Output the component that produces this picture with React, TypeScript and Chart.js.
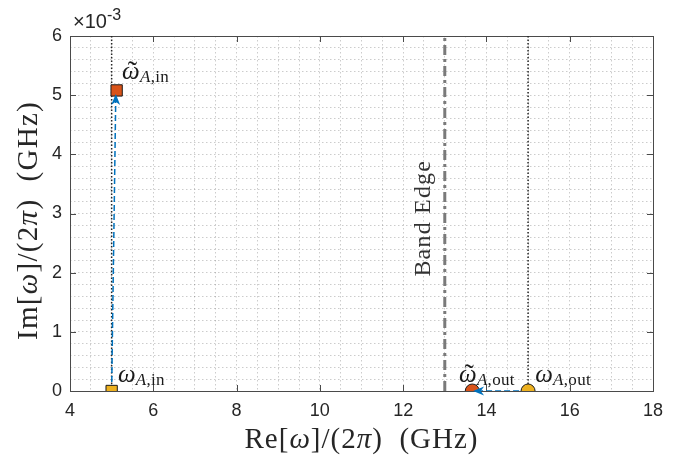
import React, { useEffect, useRef } from 'react';
import { Chart, registerables } from 'chart.js';

Chart.register(...registerables);

// ---- data ----
const xLimits = [4, 18];
const yLimits = [0, 0.006];
const xMajorTicks = [4, 6, 8, 10, 12, 14, 16, 18];
const yMajorTicks = [0, 0.001, 0.002, 0.003, 0.004, 0.005, 0.006];
const xMinorStep = 0.5;
const yMinorStep = 0.0002;

const inputMode = [{ x: 5, y: 0 }];
const inputModeShifted = [{ x: 5.12, y: 0.00508 }];
const outputMode = [{ x: 15, y: 0 }];
const outputModeShifted = [{ x: 13.66, y: 0 }];

const refLineIn = [{ x: 5, y: 0 }, { x: 5, y: 0.006 }];
const refLineOut = [{ x: 15, y: 0 }, { x: 15, y: 0.006 }];
const bandEdgeLine = [{ x: 13, y: 0 }, { x: 13, y: 0.006 }];

const arrowIn = [{ x: 5.0, y: 0 }, { x: 5.1, y: 0.00502 }];
const arrowOut = [{ x: 15, y: 0 }, { x: 13.68, y: 0 }];

const modeLabels = [
  { x: 5.25, y: 0.00528, tilde: true, sub: 'in' },
  { x: 5.15, y: 0.00016, tilde: false, sub: 'in' },
  { x: 13.34, y: 0.00016, tilde: true, sub: 'out' },
  { x: 15.17, y: 0.00016, tilde: false, sub: 'out' },
];
const bandEdgeLabel = { x: 12.645, y: 0.00292, text: 'Band Edge' };

const xTitleParts = [
  { t: 'Re[', it: false },
  { t: 'ω', it: true },
  { t: ']/(2', it: false },
  { t: 'π', it: true },
  { t: ')  (GHz)', it: false },
];
const yTitleParts = [
  { t: 'Im[', it: false },
  { t: 'ω', it: true },
  { t: ']/(2', it: false },
  { t: 'π', it: true },
  { t: ')  (GHz)', it: false },
];

// ---- styles ----
const SERIF = "'Liberation Serif', 'DejaVu Serif', serif";
const SANS = "'Liberation Sans', Arial, sans-serif";
const YELLOW = '#EDB120';
const RED = '#D95319';
const BLUE = '#0072BD';
const AXIS = '#4a4a4a';

type Seg = { t: string; it?: boolean; size: number; dy?: number };

function segFont(s: Seg) {
  return `${s.it ? 'italic ' : ''}${s.size}px ${SERIF}`;
}

function drawSegs(ctx: any, segs: Seg[], x: number, y: number, align: 'left' | 'center', spacing = 0) {
  ctx.letterSpacing = `${spacing}px`;
  let total = 0;
  for (const s of segs) {
    ctx.font = segFont(s);
    total += ctx.measureText(s.t).width;
  }
  let cx = align === 'center' ? x - total / 2 : x;
  ctx.textAlign = 'left';
  ctx.textBaseline = 'alphabetic';
  for (const s of segs) {
    ctx.font = segFont(s);
    ctx.fillText(s.t, cx, y + (s.dy || 0));
    cx += ctx.measureText(s.t).width;
  }
  ctx.letterSpacing = '0px';
}

const overlayPlugin = {
  id: 'overlay',
  beforeDatasetsDraw(chart: any) {
    const { ctx, chartArea } = chart;
    const { left, right, top, bottom } = chartArea;
    const xs = chart.scales.x;
    const ys = chart.scales.y;
    ctx.save();
    ctx.strokeStyle = AXIS;
    ctx.lineWidth = 1;
    ctx.setLineDash([]);
    ctx.strokeRect(Math.round(left) + 0.5, Math.round(top) + 0.5, Math.round(right - left), Math.round(bottom - top));
    const tl = 6;
    ctx.beginPath();
    for (const v of xMajorTicks) {
      const px = Math.round(xs.getPixelForValue(v)) + 0.5;
      ctx.moveTo(px, bottom);
      ctx.lineTo(px, bottom - tl);
      ctx.moveTo(px, top);
      ctx.lineTo(px, top + tl);
    }
    for (const v of yMajorTicks) {
      const py = Math.round(ys.getPixelForValue(v)) + 0.5;
      ctx.moveTo(left, py);
      ctx.lineTo(left + tl, py);
      ctx.moveTo(right, py);
      ctx.lineTo(right - tl, py);
    }
    ctx.stroke();
    ctx.restore();
  },
  afterDatasetsDraw(chart: any) {
    const { ctx, chartArea } = chart;
    const { left, right, top, bottom } = chartArea;
    const xs = chart.scales.x;
    const ys = chart.scales.y;
    ctx.save();

    // arrow heads
    for (const arr of [arrowIn, arrowOut]) {
      const x0 = xs.getPixelForValue(arr[0].x);
      const y0 = ys.getPixelForValue(arr[0].y);
      const x1 = xs.getPixelForValue(arr[1].x);
      const y1 = ys.getPixelForValue(arr[1].y);
      const len = Math.hypot(x1 - x0, y1 - y0);
      const ux = (x1 - x0) / len;
      const uy = (y1 - y0) / len;
      const px = -uy;
      const py = ux;
      const L = 11;
      const W = 4.5;
      ctx.fillStyle = BLUE;
      ctx.beginPath();
      ctx.moveTo(x1, y1);
      ctx.lineTo(x1 - L * ux + W * px, y1 - L * uy + W * py);
      ctx.lineTo(x1 - 0.7 * L * ux, y1 - 0.7 * L * uy);
      ctx.lineTo(x1 - L * ux - W * px, y1 - L * uy - W * py);
      ctx.closePath();
      ctx.fill();
    }

    // mode labels
    ctx.fillStyle = '#1a1a1a';
    for (const lb of modeLabels) {
      const x = xs.getPixelForValue(lb.x);
      const y = ys.getPixelForValue(lb.y);
      ctx.font = `italic 25px ${SERIF}`;
      const w = ctx.measureText('ω').width;
      drawSegs(ctx, [
        { t: 'ω', it: true, size: 25 },
        { t: 'A', it: true, size: 17, dy: 3 },
        { t: ',' + lb.sub, it: false, size: 17, dy: 3 },
      ], x, y, 'left', 0.3);
      if (lb.tilde) {
        ctx.font = `28px ${SERIF}`;
        ctx.textAlign = 'center';
        ctx.fillText('˜', x + w / 2 + 1.5, y + 1);
      }
    }

    // band edge label
    {
      const x = xs.getPixelForValue(bandEdgeLabel.x);
      const y = ys.getPixelForValue(bandEdgeLabel.y);
      ctx.save();
      ctx.translate(x, y);
      ctx.rotate(-Math.PI / 2);
      ctx.fillStyle = '#333333';
      drawSegs(ctx, [{ t: bandEdgeLabel.text, size: 24 }], 0, 0, 'center', 1.2);
      ctx.restore();
    }

    // exponent
    ctx.fillStyle = '#262626';
    ctx.textAlign = 'left';
    ctx.textBaseline = 'alphabetic';
    ctx.font = `20px ${SANS}`;
    const ex = left + 3;
    ctx.fillText('×10', ex, top - 8);
    const w10 = ctx.measureText('×10').width;
    ctx.font = `16px ${SANS}`;
    ctx.fillText('-3', ex + w10, top - 16);

    // axis titles
    ctx.fillStyle = '#262626';
    drawSegs(ctx, xTitleParts.map((p) => ({ t: p.t, it: p.it, size: 29 })), (left + right) / 2, 448, 'center', 1);
    ctx.save();
    ctx.translate(37, (top + bottom) / 2 + 7);
    ctx.rotate(-Math.PI / 2);
    drawSegs(ctx, yTitleParts.map((p) => ({ t: p.t, it: p.it, size: 29 })), 0, 0, 'center', 1.3);
    ctx.restore();

    ctx.restore();
  },
};

const App = () => {
  const ref = useRef<HTMLCanvasElement>(null);
  useEffect(() => {
    document.body.style.margin = '0';
    const lineDs = (data: any[], color: string, width: number, dash: number[], order: number) => ({
      type: 'scatter' as const,
      data,
      showLine: true,
      borderColor: color,
      borderWidth: width,
      borderDash: dash,
      pointRadius: 0,
      pointHoverRadius: 0,
      fill: false,
      order,
    });
    const markerDs = (data: any[], style: string, color: string, r: number, order: number) => ({
      type: 'scatter' as const,
      data,
      pointStyle: style,
      pointRadius: r,
      pointHoverRadius: r,
      backgroundColor: color,
      borderColor: '#1a1a1a',
      borderWidth: 1,
      order,
    });
    const chart = new Chart(ref.current as HTMLCanvasElement, {
      type: 'scatter',
      data: {
        datasets: [
          markerDs(inputMode, 'rect', YELLOW, 8, 0),
          markerDs(inputModeShifted, 'rect', RED, 8, 0),
          markerDs(outputMode, 'circle', YELLOW, 7, 0),
          markerDs(outputModeShifted, 'circle', RED, 7, 0),
          lineDs(arrowIn, BLUE, 1.5, [6, 3], 1),
          lineDs(arrowOut, BLUE, 1.5, [6, 3], 1),
          lineDs(bandEdgeLine, '#7a7a7a', 3, [10, 4, 3, 4], 2),
          lineDs(refLineIn, '#262626', 1.5, [1.5, 2], 3),
          lineDs(refLineOut, '#262626', 1.5, [1.5, 2], 3),
        ] as any,
      },
      options: {
        responsive: false,
        animation: false,
        layout: { padding: { top: 36, right: 28, left: 0, bottom: 0 } },
        plugins: { legend: { display: false }, tooltip: { enabled: false } },
        events: [],
        scales: {
          x: {
            type: 'linear',
            min: xLimits[0],
            max: xLimits[1],
            afterFit: (s: any) => { s.height = 68; },
            ticks: {
              stepSize: xMinorStep,
              autoSkip: false,
              maxRotation: 0,
              padding: 9,
              color: '#262626',
              font: { family: SANS, size: 18 },
              callback: (v: any) => (xMajorTicks.some((t) => Math.abs(t - v) < 1e-9) ? String(v) : ''),
            },
            grid: { color: 'rgba(0,0,0,0.2)', lineWidth: 1, drawTicks: false },
            border: { display: false, dash: [1.5, 2.5] },
          },
          y: {
            type: 'linear',
            min: yLimits[0],
            max: yLimits[1],
            afterFit: (s: any) => { s.width = 70; },
            ticks: {
              stepSize: yMinorStep,
              autoSkip: false,
              padding: 8,
              color: '#262626',
              font: { family: SANS, size: 18 },
              callback: (v: any) => {
                const k = Number(v) * 1000;
                return yMajorTicks.some((t) => Math.abs(t * 1000 - k) < 1e-6) ? String(Math.round(k)) : '';
              },
            },
            grid: { color: 'rgba(0,0,0,0.2)', lineWidth: 1, drawTicks: false },
            border: { display: false, dash: [1.5, 2.5] },
          },
        },
      } as any,
      plugins: [overlayPlugin],
    });
    return () => chart.destroy();
  }, []);
  return (
    <div style={{ position: 'absolute', left: 0, top: 0, width: 681, height: 459, background: '#fff' }}>
      <canvas ref={ref} width={681} height={459} style={{ display: 'block' }} />
    </div>
  );
};

export default App;
